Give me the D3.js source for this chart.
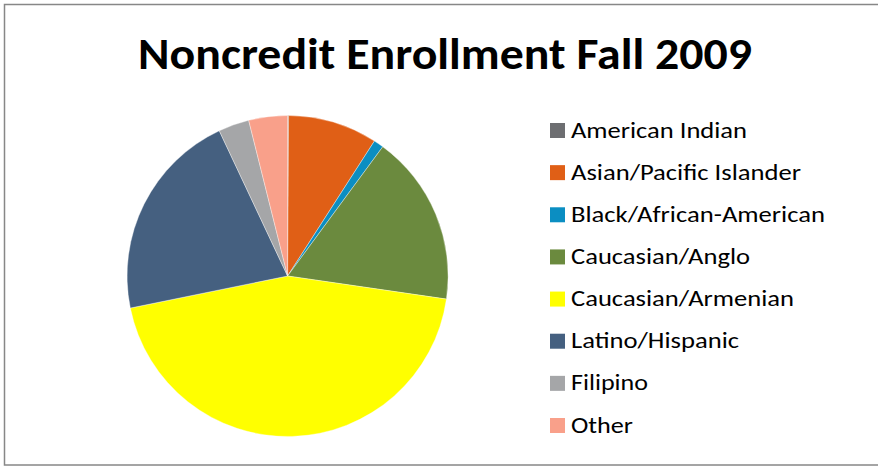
<!DOCTYPE html>
<html>
<head>
<meta charset="utf-8">
<script src="https://cdn.jsdelivr.net/npm/d3@7"></script>
<style>
  html, body { margin: 0; padding: 0; background: #fff; }
  svg { display: block; }
</style>
</head>
<body>
<svg id="chart" width="878" height="466"></svg>
<script>
// Noncredit enrollment by ethnicity, Fall 2009 (percent of total)
const categories = [
  "American Indian",
  "Asian/Pacific Islander",
  "Black/African-American",
  "Caucasian/Anglo",
  "Caucasian/Armenian",
  "Latino/Hispanic",
  "Filipino",
  "Other"
];
const shares = [0.1, 9.0, 1.0, 17.2, 44.5, 21.2, 3.1, 3.9];
const sliceColors = ["#6d6e71", "#e05f16", "#0b8ec2", "#6b8a3e", "#ffff00", "#456080", "#a5a6a8", "#f9a08a"];
const chartTitle = "Noncredit Enrollment Fall 2009";

const svg = d3.select("#chart");
const font = "Calibri, Carlito, 'Open Sans', 'Liberation Sans', sans-serif";

// chart frame
svg.append("rect")
  .attr("x", 4.5).attr("y", 4.5)
  .attr("width", 880).attr("height", 460.5)
  .attr("fill", "#fff")
  .attr("stroke", "#878787")
  .attr("stroke-width", 1.5);

// title
svg.append("text")
  .attr("x", 445).attr("y", 69)
  .attr("text-anchor", "middle")
  .attr("font-family", font)
  .attr("font-weight", "bold")
  .attr("font-size", 45)
  .attr("textLength", 614)
  .attr("lengthAdjust", "spacingAndGlyphs")
  .attr("fill", "#000")
  .text(chartTitle);

// pie
const color = d3.scaleOrdinal().domain(categories).range(sliceColors);
const data = categories.map((c, i) => ({ name: c, value: shares[i] }));
const pie = d3.pie().value(d => d.value).sort(null);
const radius = 160.5;
const arc = d3.arc().innerRadius(0).outerRadius(radius);

const g = svg.append("g").attr("transform", "translate(287.6,276)");
g.selectAll("path")
  .data(pie(data))
  .join("path")
  .attr("d", arc)
  .attr("fill", d => color(d.data.name))
  .attr("stroke", "#fff")
  .attr("stroke-width", 0.6)
  .attr("stroke-opacity", 0.6);

// legend
const legendY = d3.scalePoint().domain(categories).range([130.5, 425.5]);
const legend = svg.append("g");
const rows = legend.selectAll("g")
  .data(categories)
  .join("g")
  .attr("transform", d => `translate(550,${legendY(d)})`);
rows.append("rect")
  .attr("x", 0).attr("y", -7.5)
  .attr("width", 15).attr("height", 15)
  .attr("fill", d => color(d));
const legendWidths = {
  "American Indian": 176,
  "Asian/Pacific Islander": 230,
  "Black/African-American": 254,
  "Caucasian/Anglo": 179,
  "Caucasian/Armenian": 223,
  "Latino/Hispanic": 168,
  "Filipino": 77,
  "Other": 62
};
rows.append("text")
  .attr("x", 21).attr("y", 7)
  .attr("font-family", font)
  .attr("font-size", 22)
  .attr("fill", "#000")
  .attr("textLength", d => legendWidths[d])
  .attr("lengthAdjust", "spacingAndGlyphs")
  .text(d => d);
</script>
</body>
</html>
